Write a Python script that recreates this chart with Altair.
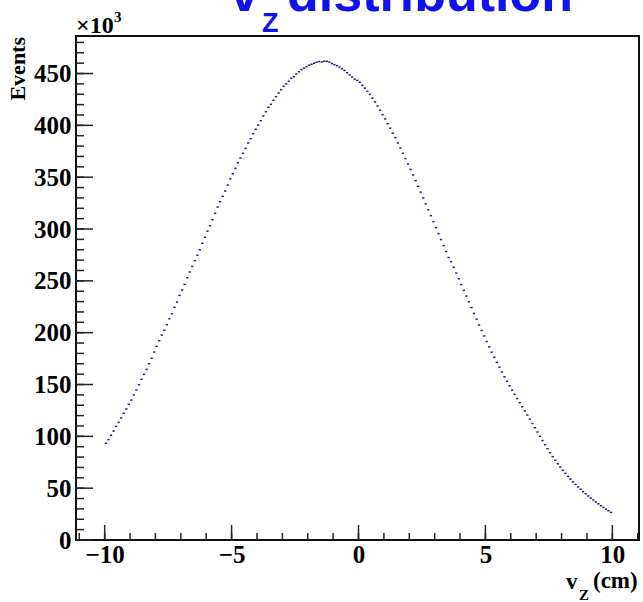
import altair as alt
import numpy as np
import pandas as pd

# ---- data: 200 bins of 0.1 cm from -10 to 10, counts in units of 10^3 ----
bin_low = -10.0
bin_width = 0.1
events_left_k = [
    93.3, 96.8, 101.0, 105.1, 109.6, 113.5, 117.7, 122.2, 126.4, 130.9,
    135.0, 139.9, 144.7, 149.8, 155.0, 159.8, 164.6, 170.0, 175.3, 181.3,
    186.8, 192.3, 197.7, 202.3, 207.7, 213.5, 218.3, 224.5, 229.6, 236.0,
    241.2, 246.6, 253.0, 258.5, 264.0, 269.4, 274.6, 280.0, 286.2, 292.0,
    298.0, 303.2, 309.0, 315.1, 321.2, 326.3, 331.5, 336.6, 342.4, 348.5,
    353.3, 358.5, 364.0, 368.5, 373.0, 377.8, 383.0, 387.1, 391.9, 396.2,
    400.3, 404.5, 409.0, 413.2, 417.4, 420.3, 424.2, 427.7, 431.2, 434.4,
    437.7, 440.0, 442.6, 445.4, 447.0, 449.6, 451.7, 453.8, 455.2, 456.6,
    458.0, 458.9, 459.9, 460.9, 461.6, 461.2, 461.8, 461.9, 461.0, 459.6,
    458.6, 457.6, 456.2, 454.6, 452.9, 450.8, 448.6, 446.6, 444.6, 443.3,
]
events_right_k = [
    441.5, 438.6, 435.9, 432.8, 429.9, 426.2, 422.6, 418.7, 414.6, 410.3,
    406.2, 401.6, 397.3, 392.4, 388.1, 383.0, 378.2, 373.1, 368.0, 362.8,
    357.5, 352.1, 346.7, 341.2, 335.6, 330.0, 324.3, 318.6, 312.9, 307.1,
    301.3, 295.6, 289.8, 284.0, 278.2, 272.5, 268.5, 263.0, 257.5, 252.0,
    246.4, 240.8, 235.3, 229.8, 224.2, 218.6, 213.0, 207.5, 202.1, 196.8,
    191.5, 186.3, 181.2, 176.2, 171.3, 166.6, 162.0, 157.5, 153.1, 148.8,
    144.6, 140.5, 136.5, 132.5, 128.5, 124.5, 120.6, 116.6, 112.4, 108.3,
    104.2, 100.1, 96.0, 91.9, 88.0, 84.2, 80.4, 76.9, 73.5, 70.4,
    67.3, 64.3, 61.4, 58.7, 56.1, 53.6, 51.2, 48.9, 46.7, 44.6,
    42.5, 40.5, 38.6, 36.7, 34.9, 33.1, 31.4, 29.8, 28.2, 26.6,
]
events_k = events_left_k + events_right_k
x_major = [-10, -5, 0, 5, 10]
x_minor = list(range(-11, 12))
y_major = list(range(0, 451, 50))
y_minor = list(range(0, 481, 10))

n = len(events_k)
df = pd.DataFrame({
    "lo": [round(bin_low + i * bin_width, 3) for i in range(n)],
    "ev": events_k,
})

W, H = 563, 504
XDOM = [-11.13, 11.05]
YDOM = [0, 486.2]
SERIF = "Liberation Serif"
SANS = "Liberation Sans"
TICKC = "#222222"

xs = alt.Scale(domain=XDOM, nice=False, zero=False)
ys = alt.Scale(domain=YDOM, nice=False, zero=False)
x_axis = alt.Axis(values=x_major, title=None, ticks=False, domain=False,
                  grid=False, labelFont=SERIF, labelFontWeight="bold",
                  labelFontSize=25, labelColor="black", labelPadding=2)
y_axis = alt.Axis(values=y_major, title=None, ticks=False, domain=False,
                  grid=False, labelFont=SERIF, labelFontWeight="bold",
                  labelFontSize=25, labelColor="black", labelPadding=5)

points = alt.Chart(df).transform_calculate(
    a="datum.lo + 0.005", b="datum.lo + 0.095"
).mark_rule(color="#1c1c8c", strokeWidth=1.5).encode(
    x=alt.X("a:Q", scale=xs, axis=x_axis),
    x2="b:Q",
    y=alt.Y("ev:Q", scale=ys, axis=y_axis),
)

ymaj = alt.Chart(pd.DataFrame({"t": y_major})).mark_rule(
    color=TICKC, strokeWidth=1.5).encode(
    y=alt.Y("t:Q", scale=ys, axis=y_axis), x=alt.value(0), x2=alt.value(17))
ymin = alt.Chart(pd.DataFrame({"t": y_minor})).mark_rule(
    color=TICKC, strokeWidth=1.5).encode(
    y=alt.Y("t:Q", scale=ys, axis=y_axis), x=alt.value(0), x2=alt.value(8))
xmaj = alt.Chart(pd.DataFrame({"t": x_major})).mark_rule(
    color=TICKC, strokeWidth=1.5).encode(
    x=alt.X("t:Q", scale=xs, axis=x_axis), y=alt.value(H), y2=alt.value(H - 15))
xmin = alt.Chart(pd.DataFrame({"t": x_minor})).mark_rule(
    color=TICKC, strokeWidth=1.5).encode(
    x=alt.X("t:Q", scale=xs, axis=x_axis), y=alt.value(H), y2=alt.value(H - 7))


def label(txt, x, y, size, font=SERIF, color="black", align="left",
          baseline="alphabetic", angle=0):
    return alt.Chart(pd.DataFrame({"s": [txt]})).mark_text(
        font=font, fontWeight="bold", fontSize=size, color=color,
        align=align, baseline=baseline, angle=angle).encode(
        text="s:N", x=alt.value(x), y=alt.value(y))


BLUE = "#1111ee"
texts = [
    label("v", 154, -25, 52, font=SANS, color=BLUE),
    label("Z", 186, -4, 27, font=SANS, color=BLUE),
    label("distribution", 211, -25, 52, font=SANS, color=BLUE),
    label("×10", 0, -3, 24),
    label("3", 38, -14, 15),
    label("Events", -58, 1, 22, align="right", baseline="middle", angle=270),
    label("v", 490, 553, 23),
    label("Z", 503, 564, 15),
    label("(cm)", 517, 552, 23),
]

chart = alt.layer(points, ymin, ymaj, xmin, xmaj, *texts).properties(
    width=W, height=H,
    autosize=alt.AutoSizeParams(type="none"),
    padding={"left": 76, "top": 36, "right": 4, "bottom": 62},
    background="white",
).configure_view(stroke="#111111", strokeWidth=2)

chart.save("out.html", embed_options={"renderer": "svg", "actions": False})
